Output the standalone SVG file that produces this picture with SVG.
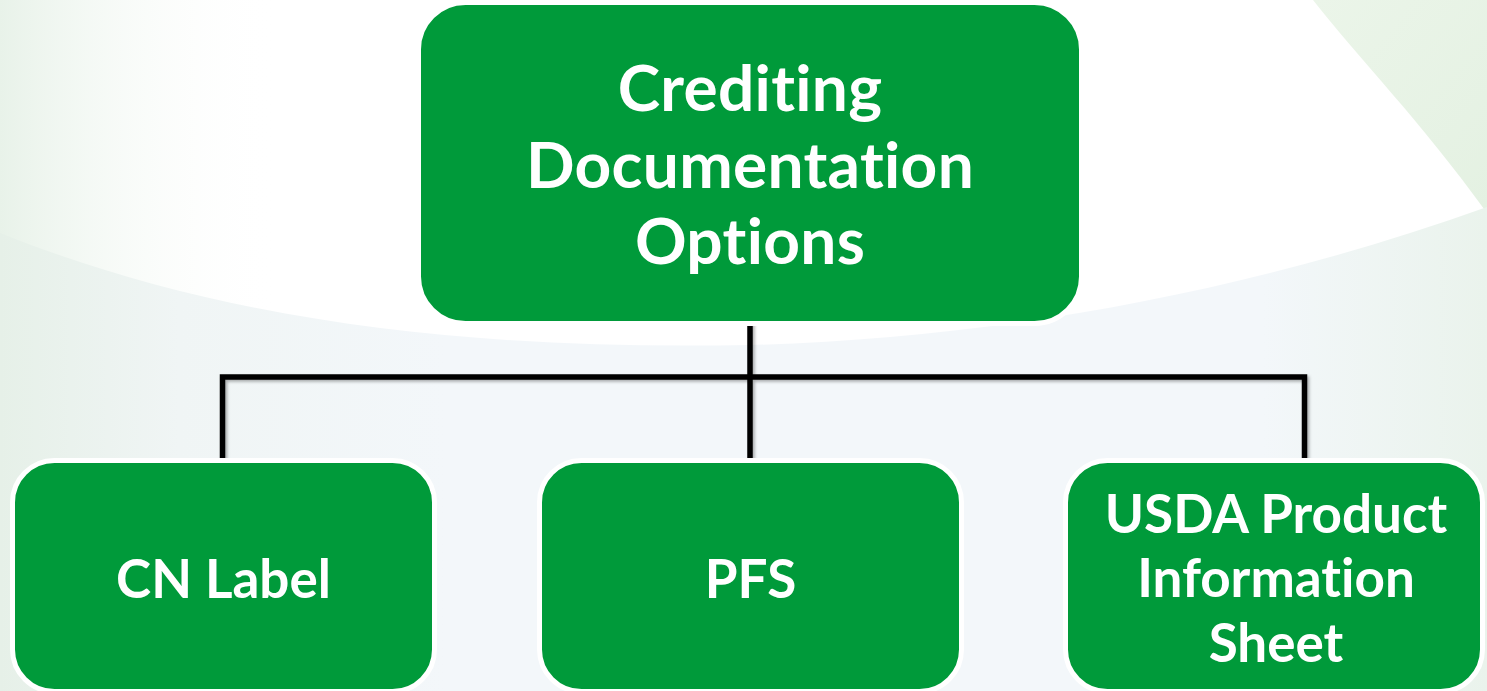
<svg xmlns="http://www.w3.org/2000/svg" width="1487" height="691" viewBox="0 0 1487 691">
  <defs>
    <linearGradient id="leftTint" x1="0" y1="0" x2="1" y2="0">
      <stop offset="0" stop-color="#e8f2e9" stop-opacity="1"/>
      <stop offset="1" stop-color="#ffffff" stop-opacity="0"/>
    </linearGradient>
    <linearGradient id="bandTint" x1="0" y1="0" x2="1" y2="0">
      <stop offset="0" stop-color="#e6f0e8"/>
      <stop offset="0.12" stop-color="#f0f5f5"/>
      <stop offset="0.3" stop-color="#f3f7fa"/>
      <stop offset="0.85" stop-color="#f3f7fa"/>
      <stop offset="1" stop-color="#eaf3ec"/>
    </linearGradient>
    <linearGradient id="cornerTint" x1="0" y1="0" x2="1" y2="1">
      <stop offset="0" stop-color="#ebf5e9"/>
      <stop offset="1" stop-color="#e4f1e2"/>
    </linearGradient>
    <filter id="lineShadow" x="-20%" y="-20%" width="140%" height="140%">
      <feDropShadow dx="2" dy="2" stdDeviation="1.5" flood-color="#000000" flood-opacity="0.3"/>
    </filter>
  </defs>
  <style>
    .box { fill: #009a3a; stroke: #ffffff; stroke-width: 5; }
    .label { font-family: Lato, "Liberation Sans", sans-serif; font-weight: 700; fill: #ffffff; text-anchor: middle; font-variant-ligatures: none; }
    .big { font-size: 64px; letter-spacing: 0.3px; }
    .small { font-size: 53px; }
    .wire { fill: none; stroke: #000000; stroke-width: 5.5; stroke-linecap: butt; stroke-linejoin: miter; }
  </style>

  <!-- backdrop -->
  <g id="background">
    <rect x="0" y="0" width="1487" height="691" fill="#ffffff"/>
    <rect x="0" y="0" width="280" height="691" fill="url(#leftTint)"/>
    <path d="M1313,0 C1360,60 1420,120 1487,213 L1487,0 Z" fill="url(#cornerTint)"/>
    <path d="M0,233 C230,325 480,350 750,345 C1000,338 1250,292 1487,207 L1487,691 L0,691 Z" fill="url(#bandTint)"/>
  </g>

  <!-- tree connectors -->
  <g id="connectors" class="wire" filter="url(#lineShadow)">
    <path d="M750,321 V461"/>
    <path d="M222.5,461 V377 H1304.5 V461"/>
  </g>

  <g id="node-root">
    <rect class="box" x="418.5" y="2.5" width="663" height="321" rx="47" ry="47"/>
    <text class="label big" x="750" y="111">Crediting</text>
    <text class="label big" x="750" y="188">Documentation</text>
    <text class="label big" x="750" y="264">Options</text>
  </g>

  <g id="node-cn-label">
    <rect class="box" x="12.5" y="460.5" width="422" height="231" rx="42" ry="42"/>
    <text class="label small" x="223.5" y="598">CN Label</text>
  </g>

  <g id="node-pfs">
    <rect class="box" x="539.5" y="460.5" width="422" height="231" rx="42" ry="42"/>
    <text class="label small" x="750.5" y="598">PFS</text>
  </g>

  <g id="node-usda">
    <rect class="box" x="1065.5" y="460.5" width="417" height="231" rx="42" ry="42"/>
    <text class="label small" x="1276" y="533">USDA Product</text>
    <text class="label small" x="1276" y="597">Information</text>
    <text class="label small" x="1276" y="662">Sheet</text>
  </g>
</svg>
